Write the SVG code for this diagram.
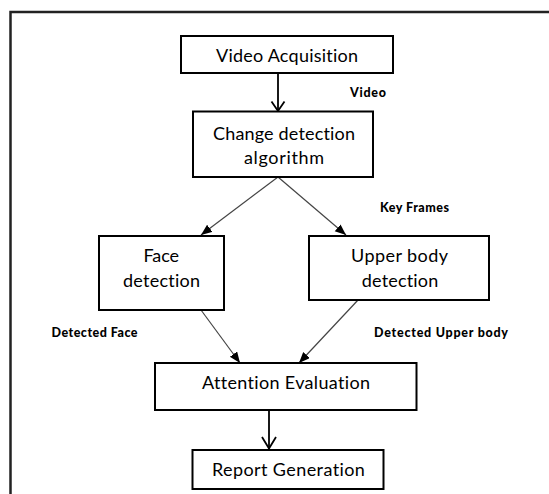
<svg xmlns="http://www.w3.org/2000/svg" width="549" height="494" viewBox="0 0 549 494">
  <style>
    .box { fill: #fff; stroke: #000; stroke-width: 2; }
    .lbl { font-family: Lato, "Open Sans", sans-serif; font-size: 18px; fill: #000; text-anchor: middle; font-variant-ligatures: none; }
    .tag { font-family: Lato, "Open Sans", sans-serif; font-size: 12.5px; font-weight: 900; fill: #000; font-variant-ligatures: none; }
    .main { stroke: #000; stroke-width: 1.8; fill: none; }
    .diag { stroke: #444; stroke-width: 1.2; fill: none; marker-end: url(#tri); }
    .head { stroke: #000; stroke-width: 1.8; fill: none; }
  </style>
  <defs>
    <marker id="tri" markerUnits="userSpaceOnUse" markerWidth="12" markerHeight="10" refX="11" refY="4.5" orient="auto">
      <path d="M0,0 L11,4.5 L0,9 z" fill="#000"/>
    </marker>
  </defs>
  <rect width="549" height="494" fill="#fff"/>
  <path d="M549 12 H10.5 V494" fill="none" stroke="#222" stroke-width="2.5"/>

  <g id="connectors">
    <line class="main" x1="278" y1="73" x2="278" y2="111"/>
    <path class="head" d="M271.5 101.5 L278 111 L284.5 101.5"/>
    <line class="diag" x1="278" y1="177" x2="201" y2="235"/>
    <line class="diag" x1="278" y1="177" x2="346" y2="235"/>
    <line class="diag" x1="201" y1="310" x2="240" y2="363"/>
    <line class="diag" x1="358" y1="300" x2="299" y2="363"/>
    <line class="main" x1="269" y1="410" x2="269" y2="449"/>
    <path class="head" d="M262 437 L269 448.5 L276 437"/>
  </g>

  <g id="edge-labels">
    <text class="tag" x="350" y="97" textLength="36">Video</text>
    <text class="tag" x="380" y="212" textLength="69">Key Frames</text>
    <text class="tag" x="51.5" y="337" textLength="86">Detected Face</text>
    <text class="tag" x="374" y="337" textLength="134">Detected Upper body</text>
  </g>

  <g id="video-acquisition">
    <rect class="box" x="181" y="36" width="212" height="37"/>
    <text class="lbl" x="287" y="62" textLength="142">Video Acquisition</text>
  </g>
  <g id="change-detection">
    <rect class="box" x="193" y="111.5" width="180" height="65.5"/>
    <text class="lbl" x="284" y="140" textLength="142">Change detection</text>
    <text class="lbl" x="284" y="164" textLength="80">algorithm</text>
  </g>
  <g id="face-detection">
    <rect class="box" x="99" y="236" width="125" height="74"/>
    <text class="lbl" x="161.3" y="262" textLength="35.5">Face</text>
    <text class="lbl" x="161.5" y="287" textLength="77">detection</text>
  </g>
  <g id="upper-body-detection">
    <rect class="box" x="309" y="236" width="180" height="64"/>
    <text class="lbl" x="399.5" y="262" textLength="97">Upper body</text>
    <text class="lbl" x="400" y="287" textLength="76.5">detection</text>
  </g>
  <g id="attention-evaluation">
    <rect class="box" x="155" y="363" width="261.5" height="47"/>
    <text class="lbl" x="286" y="389" textLength="168">Attention Evaluation</text>
  </g>
  <g id="report-generation">
    <rect class="box" x="192.5" y="450" width="191" height="39"/>
    <text class="lbl" x="288.4" y="476" textLength="153">Report Generation</text>
  </g>
</svg>
